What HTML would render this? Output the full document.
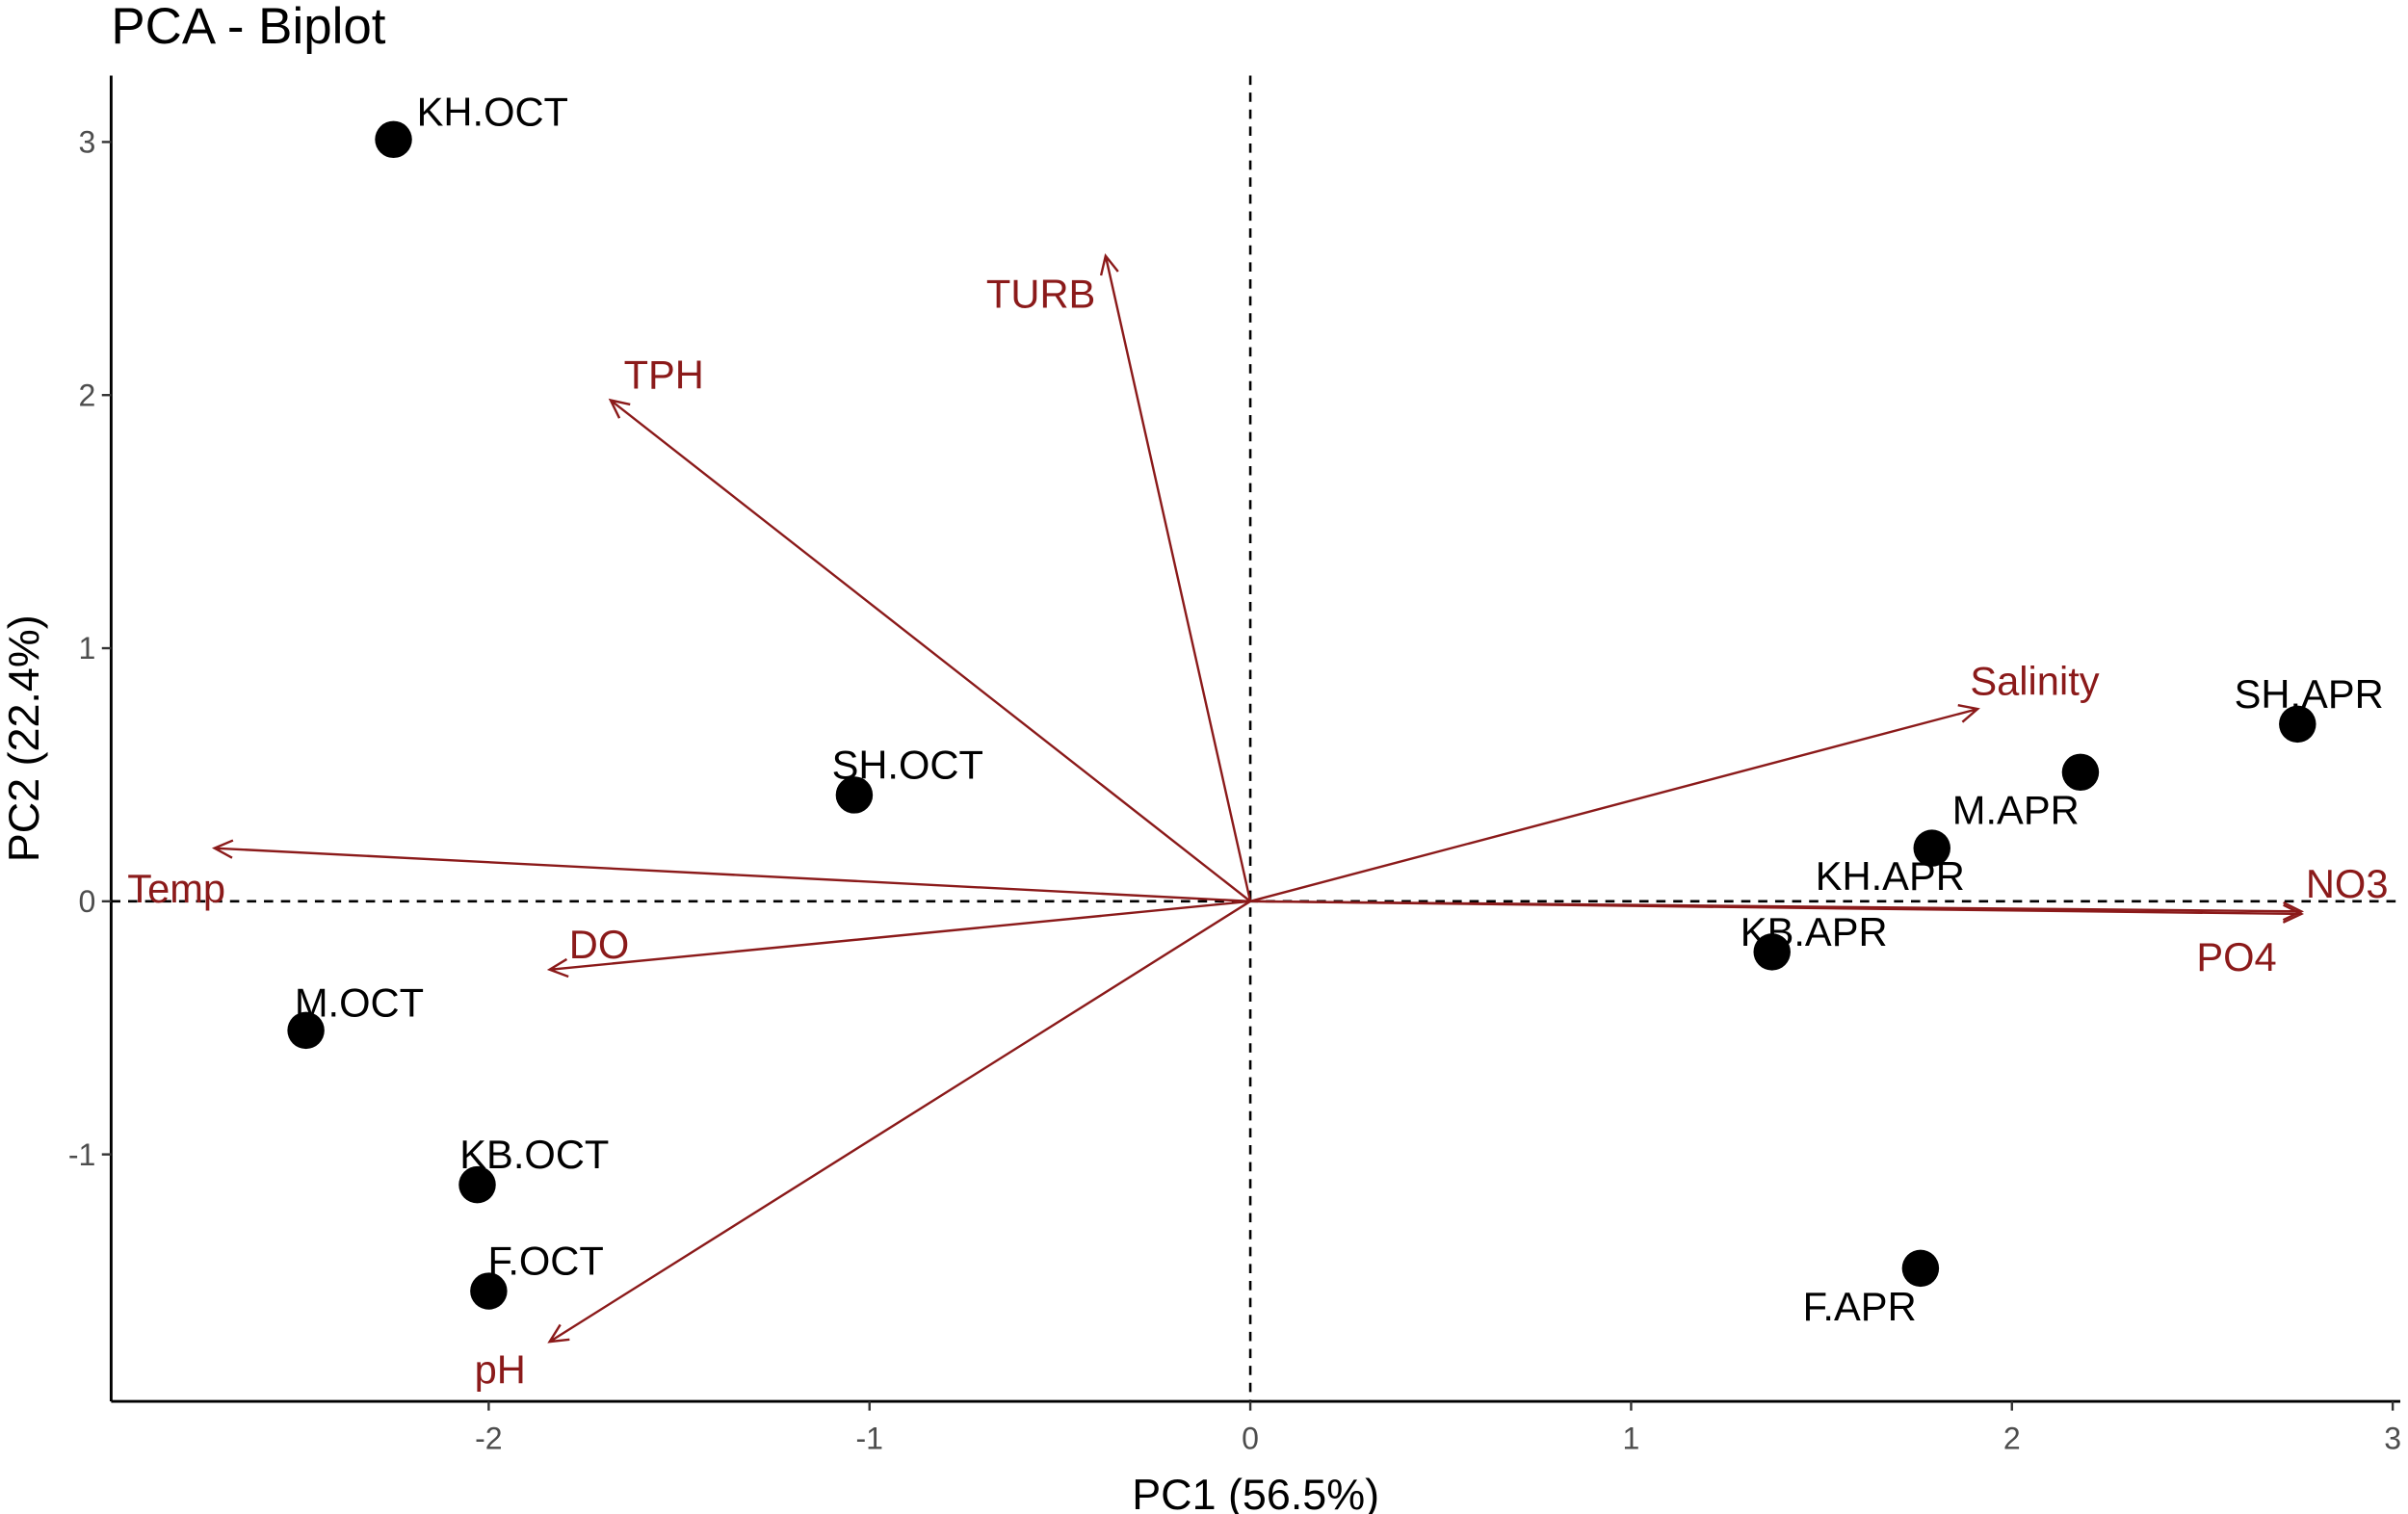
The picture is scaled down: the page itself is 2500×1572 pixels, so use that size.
<!DOCTYPE html>
<html><head><meta charset="utf-8"><style>
html,body{margin:0;padding:0;background:#fff}
svg{display:block;font-family:"Liberation Sans",Arial,sans-serif}
</style></head><body>
<svg id="chart" width="2500" height="1572" viewBox="0 0 1560 981" preserveAspectRatio="none" xmlns="http://www.w3.org/2000/svg">
<text x="72" y="28" font-size="33" fill="#000">PCA - Biplot</text>
<g id="plot"></g>
</svg>
<script>
const pointNames = ["KH.OCT","SH.OCT","M.OCT","KB.OCT","F.OCT","SH.APR","M.APR","KH.APR","KB.APR","F.APR"];
const pointX = [-2.25,-1.04,-2.48,-2.03,-2.00,2.75,2.18,1.79,1.37,1.76];
const pointY = [3.01,0.42,-0.51,-1.12,-1.54,0.70,0.51,0.21,-0.20,-1.45];
const pointLabX = [-1.99,-0.90,-2.34,-1.88,-1.85,2.78,2.01,1.68,1.48,1.60];
const pointLabY = [3.12,0.54,-0.40,-1.00,-1.42,0.82,0.36,0.10,-0.12,-1.60];
const varNames = ["TURB","TPH","Salinity","Temp","DO","pH","NO3","PO4"];
const varX = [-0.38,-1.68,1.91,-2.72,-1.84,-1.84,2.76,2.76];
const varY = [2.55,1.98,0.76,0.21,-0.27,-1.74,-0.04,-0.05];
const varLabX = [-0.55,-1.54,2.06,-2.82,-1.71,-1.97,2.88,2.59];
const varLabY = [2.40,2.08,0.87,0.05,-0.17,-1.85,0.07,-0.22];
const xTicks = [-2,-1,0,1,2,3];
const yTicks = [-1,0,1,2,3];

const L=72,R=1555,T=49,B=908;
const sx=v=>810+v*246.7, sy=v=>584-v*164;
const NS="http://www.w3.org/2000/svg";
const g=document.getElementById('plot');
function mk(t,a,txt){const e=document.createElementNS(NS,t);for(const k in a)e.setAttribute(k,a[k]);if(txt!==undefined)e.textContent=txt;g.appendChild(e);return e;}
const red="#8B1A1A";
let e=mk('line',{x1:L,x2:R,y1:sy(0),y2:sy(0),stroke:'#000','stroke-width':1.6,'stroke-dasharray':'6,5'});


e=mk('line',{x1:sx(0),x2:sx(0),y1:T,y2:B,stroke:'#000','stroke-width':1.6,'stroke-dasharray':'6,5'});


e=mk('line',{x1:L,x2:R,y1:B,y2:B,stroke:'#000','stroke-width':1.8});


e=mk('line',{x1:L,x2:L,y1:T,y2:B,stroke:'#000','stroke-width':1.8});


xTicks.forEach(v=>{
 const t=mk('line',{x1:sx(v),x2:sx(v),y1:B,y2:B+6,stroke:'#333','stroke-width':1.5});
 
 
 const l=mk('text',{x:sx(v),y:B+31,'font-size':20,fill:'#4d4d4d','text-anchor':'middle'},String(v));
 
 
});
yTicks.forEach(v=>{
 const t=mk('line',{x1:L-6,x2:L,y1:sy(v),y2:sy(v),stroke:'#333','stroke-width':1.5});
 
 
 const l=mk('text',{x:L-10,y:sy(v)+7,'font-size':20,fill:'#4d4d4d','text-anchor':'end'},String(v));
 
 
});
e=mk('text',{x:(L+R)/2,y:978,'font-size':28,fill:'#000','text-anchor':'middle'},'PC1 (56.5%)');


e=mk('text',{x:25,y:(T+B)/2,'font-size':28,fill:'#000','text-anchor':'middle',transform:`rotate(-90 25 ${(T+B)/2})`},'PC2 (22.4%)');


varNames.forEach((n,i)=>{
 const x0=sx(0),y0=sy(0),x1=sx(varX[i]),y1=sy(varY[i]);
 const a=Math.atan2(y1-y0,x1-x0),h=13,w=0.45;
 const p=`M${x0},${y0}L${x1},${y1}M${x1-h*Math.cos(a-w)},${y1-h*Math.sin(a-w)}L${x1},${y1}L${x1-h*Math.cos(a+w)},${y1-h*Math.sin(a+w)}`;
 const ar=mk('path',{d:p,stroke:red,'stroke-width':1.5,fill:'none'});
 
 
 const l=mk('text',{x:sx(varLabX[i]),y:sy(varLabY[i]),'font-size':26,fill:red,'text-anchor':'middle','dominant-baseline':'central'},n);
 
 
});
pointNames.forEach((n,i)=>{
 const c=mk('circle',{cx:sx(pointX[i]),cy:sy(pointY[i]),r:12,fill:'#000'});
 
 
 const l=mk('text',{x:sx(pointLabX[i]),y:sy(pointLabY[i]),'font-size':26,fill:'#000','text-anchor':'middle','dominant-baseline':'central'},n);
 
 
});
</script>
</body></html>
